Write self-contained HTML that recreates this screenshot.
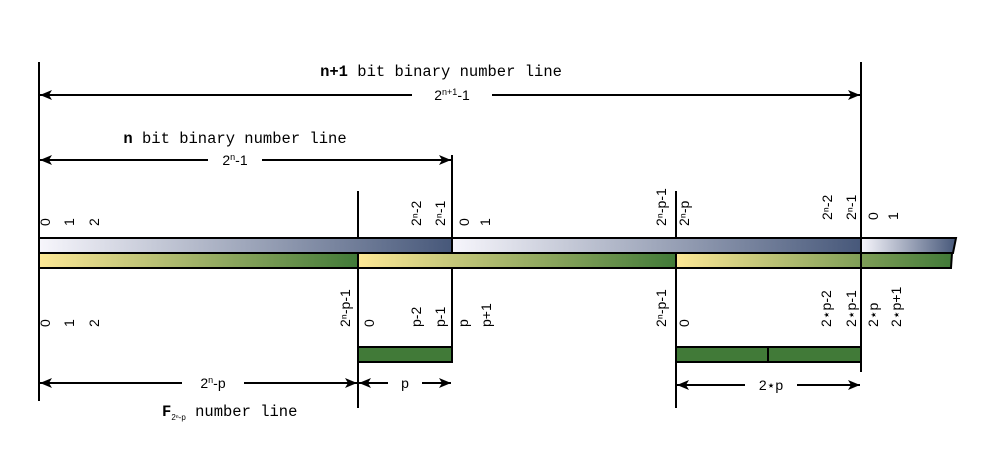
<!DOCTYPE html>
<html><head><meta charset="utf-8"><style>
html,body{margin:0;padding:0;background:#fff;}
svg{display:block;}
.m{font-family:"Liberation Mono",monospace;font-size:15.5px;fill:#000;}
.s{font-family:"Liberation Sans",sans-serif;font-size:14px;fill:#000;}
.r{font-family:"Liberation Sans",sans-serif;font-size:14px;fill:#000;}
</style></head><body>
<svg width="996" height="464" viewBox="0 0 996 464" xmlns="http://www.w3.org/2000/svg">
<defs>
<linearGradient id="gb" x1="0" x2="1" y1="0" y2="0"><stop offset="0" stop-color="#f7f6fc"/><stop offset="1" stop-color="#47587a"/></linearGradient>
<linearGradient id="gg" x1="0" x2="1" y1="0" y2="0"><stop offset="0" stop-color="#fde896"/><stop offset="1" stop-color="#417a38"/></linearGradient>
<marker id="a" viewBox="0 0 12 10" refX="12" refY="5" markerWidth="12" markerHeight="10" markerUnits="userSpaceOnUse" orient="auto-start-reverse"><path d="M0,0 L12,5 L0,10 L3,5 Z" fill="#000"/></marker>
</defs>
<g stroke="#000" stroke-width="2" fill="none">
<line x1="39" y1="62" x2="39" y2="401"/>
<line x1="861" y1="62" x2="861" y2="372"/>
<line x1="452" y1="155" x2="452" y2="362"/>
<line x1="358" y1="191" x2="358" y2="408"/>
<line x1="676" y1="191" x2="676" y2="408"/>
</g>
<!-- bars -->
<rect x="39" y="238" width="413" height="15" fill="url(#gb)" stroke="#000" stroke-width="2"/>
<rect x="452" y="238" width="409" height="15" fill="url(#gb)" stroke="#000" stroke-width="2"/>
<polygon points="861,238 956,238 953,253 861,253" fill="url(#gb)" stroke="#000" stroke-width="2"/>
<rect x="39" y="253" width="319" height="15" fill="url(#gg)" stroke="#000" stroke-width="2"/>
<rect x="358" y="253" width="318" height="15" fill="url(#gg)" stroke="#000" stroke-width="2"/>
<polygon points="676,253 952,253 951,268 676,268" fill="url(#gg)" stroke="#000" stroke-width="2"/>
<line x1="861" y1="238" x2="861" y2="268" stroke="#000" stroke-width="2"/>
<!-- small green -->
<rect x="358" y="347" width="94" height="15" fill="#417a38" stroke="#000" stroke-width="2"/>
<rect x="676" y="347" width="185" height="15" fill="#417a38" stroke="#000" stroke-width="2"/>
<line x1="768" y1="347" x2="768" y2="362" stroke="#000" stroke-width="2"/>
<!-- arrows -->
<g stroke="#000" stroke-width="2" marker-start="url(#a)" marker-end="url(#a)">
<line x1="40" y1="95" x2="412" y2="95" marker-end="none"/>
<line x1="492" y1="95" x2="860" y2="95" marker-start="none"/>
<line x1="40" y1="160" x2="208" y2="160" marker-end="none"/>
<line x1="262" y1="160" x2="451" y2="160" marker-start="none"/>
<line x1="40" y1="383" x2="182" y2="383" marker-end="none"/>
<line x1="244" y1="383" x2="357" y2="383" marker-start="none"/>
<line x1="359" y1="383" x2="388" y2="383" marker-end="none"/>
<line x1="422" y1="383" x2="451" y2="383" marker-start="none"/>
<line x1="677" y1="385" x2="745" y2="385" marker-end="none"/>
<line x1="797" y1="385" x2="860" y2="385" marker-start="none"/>
</g>
<!-- titles -->
<text class="m" x="441" y="76" text-anchor="middle"><tspan font-weight="bold">n+1</tspan> bit binary number line</text>
<text class="s" x="452" y="100" text-anchor="middle">2<tspan font-size="9" dy="-5">n+1</tspan><tspan dy="5">-1</tspan></text>
<text class="m" x="235" y="143" text-anchor="middle"><tspan font-weight="bold">n</tspan> bit binary number line</text>
<text class="s" x="235" y="165" text-anchor="middle">2<tspan font-size="9" dy="-5">n</tspan><tspan dy="5">-1</tspan></text>
<text class="s" x="213" y="388" text-anchor="middle">2<tspan font-size="9" dy="-5">n</tspan><tspan dy="5">-p</tspan></text>
<text class="s" x="405" y="388" text-anchor="middle">p</text>
<text class="s" x="771" y="390" text-anchor="middle">2⋆p</text>
<text class="m" x="162" y="416"><tspan font-weight="bold">F</tspan><tspan font-size="8" font-family="Liberation Sans,sans-serif" dy="4">2ⁿ-p</tspan><tspan dy="-4"> number line</tspan></text>
<!-- rotated labels top (bottom edge y=226) -->
<g class="r">
<text transform="translate(50,226) rotate(-90)">0</text>
<text transform="translate(74,226) rotate(-90)">1</text>
<text transform="translate(99,226) rotate(-90)">2</text>
<text transform="translate(421,226) rotate(-90)">2ⁿ-2</text>
<text transform="translate(445,226) rotate(-90)">2ⁿ-1</text>
<text transform="translate(469,226) rotate(-90)">0</text>
<text transform="translate(490,226) rotate(-90)">1</text>
<text transform="translate(666,226) rotate(-90)">2ⁿ-p-1</text>
<text transform="translate(689,226) rotate(-90)">2ⁿ-p</text>
<text transform="translate(832,220) rotate(-90)">2ⁿ-2</text>
<text transform="translate(856,220) rotate(-90)">2ⁿ-1</text>
<text transform="translate(878,220) rotate(-90)">0</text>
<text transform="translate(898,220) rotate(-90)">1</text>
<!-- bottom (bottom edge y=327) -->
<text transform="translate(50,327) rotate(-90)">0</text>
<text transform="translate(74,327) rotate(-90)">1</text>
<text transform="translate(99,327) rotate(-90)">2</text>
<text transform="translate(350,327) rotate(-90)">2ⁿ-p-1</text>
<text transform="translate(374,327) rotate(-90)">0</text>
<text transform="translate(421,327) rotate(-90)">p-2</text>
<text transform="translate(445,327) rotate(-90)">p-1</text>
<text transform="translate(468,327) rotate(-90)">p</text>
<text transform="translate(491,327) rotate(-90)">p+1</text>
<text transform="translate(666,327) rotate(-90)">2ⁿ-p-1</text>
<text transform="translate(689,327) rotate(-90)">0</text>
<text transform="translate(831,327) rotate(-90)">2⋆p-2</text>
<text transform="translate(856,327) rotate(-90)">2⋆p-1</text>
<text transform="translate(878,327) rotate(-90)">2⋆p</text>
<text transform="translate(901,327) rotate(-90)">2⋆p+1</text>
</g>
</svg>
</body></html>
